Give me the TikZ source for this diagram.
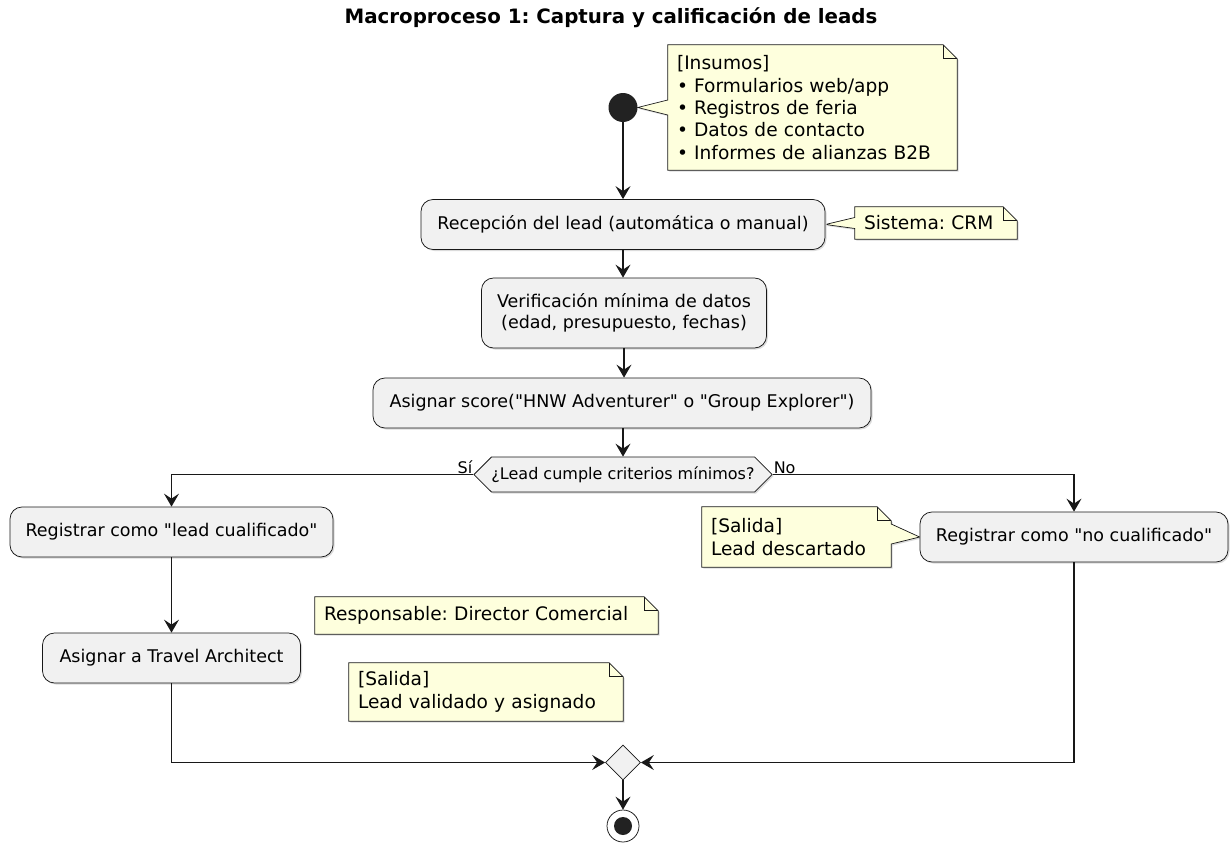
\documentclass[tikz,border=0pt]{standalone}
\usepackage{fontspec}
\setmainfont{DejaVu Sans}[Ligatures=TeXOff]
\usetikzlibrary{arrows.meta,shapes.geometric,shapes.symbols}
\frenchspacing

\definecolor{linec}{HTML}{181818}
\definecolor{actfill}{HTML}{F1F1F1}
\definecolor{notefill}{HTML}{FEFFDD}
\definecolor{dotfill}{HTML}{222222}

\pgfdeclarelayer{background}
\pgfsetlayers{background,main}

\newcommand\actfont{\fontsize{17.5}{21.5}\selectfont}
\newcommand\notefont{\fontsize{18.6}{22.4}\selectfont}
\newcommand\decfont{\fontsize{16}{19}\selectfont}

% outline of a note with a folded top-right corner
\newcommand\notebody[1]{(#1.south west) -- (#1.north west) -- ([xshift=-14pt]#1.north east) -- ([yshift=-14pt]#1.north east) -- (#1.south east) -- cycle}
% note whose left side points at a target
\newcommand\notebodyleft[4]{(#1.south west) -- ([yshift=#3]#1.west) -- (#2) -- ([yshift=#4]#1.west) -- (#1.north west) -- ([xshift=-14pt]#1.north east) -- ([yshift=-14pt]#1.north east) -- (#1.south east) -- cycle}
% note whose right side points at a target
\newcommand\notebodyright[4]{(#1.south west) -- (#1.north west) -- ([xshift=-14pt]#1.north east) -- ([yshift=-14pt]#1.north east) -- ([yshift=#4]#1.east) -- (#2) -- ([yshift=#3]#1.east) -- (#1.south east) -- cycle}
\newcommand\notefold[1]{\draw[notefoldline] ([xshift=-14pt]#1.north east) |- ([yshift=-14pt]#1.north east);}

\tikzset{
  act/.style={draw=linec, fill=actfill, line width=0.75pt, rounded corners=12pt,
    font=\actfont, align=center, inner sep=0pt, minimum height=50pt,
    preaction={fill=black!14, transform canvas={xshift=1.5pt,yshift=-1.5pt}}},
  notetext/.style={font=\notefont, align=left, inner xsep=9pt, inner ysep=0pt, anchor=center},
  noteshape/.style={draw=linec, fill=notefill, line width=0.7pt, line join=miter},
  noteshadow/.style={fill=black!14, transform canvas={xshift=1.5pt,yshift=-1.5pt}},
  notefoldline/.style={draw=linec, line width=0.7pt},
  flow/.style={draw=linec, line width=1.2pt, -{Stealth[length=13pt,width=15pt,inset=5pt]}},
  lbl/.style={font=\decfont, inner sep=1pt}
}

\begin{document}
\begin{tikzpicture}[x=1pt,y=-1pt]
\useasboundingbox (0,0) rectangle (1231,843);

% title
\node[font=\bfseries\fontsize{19.8}{24}\selectfont] (title) at (611,18) {Macroproceso 1: Captura y calificación de leads};

% main flow
\node[circle, fill=dotfill, minimum size=29pt, inner sep=0pt] (start) at (623,107.5) {};
\node[act, minimum width=404pt] (recep) at (623,224.5) {Recepción del lead (automática o manual)};
\node[act, minimum width=285pt, minimum height=70pt] (verif) at (624,313) {Verificación mínima de datos\\(edad, presupuesto, fechas)};
\node[act, minimum width=498pt] (score) at (622,403) {Asignar score("HNW Adventurer" o "Group Explorer")};
\node[signal, signal to=west and east, signal pointer angle=90, draw=linec, fill=actfill,
  line width=0.75pt, minimum width=296pt, minimum height=35pt, inner sep=0pt, font=\decfont,
  preaction={fill=black!14, transform canvas={xshift=1.5pt,yshift=-1.5pt}}] (dec) at (623,474.5) {¿Lead cumple criterios mínimos?};
\node[act, minimum width=323pt] (regL) at (171.5,532) {Registrar como "lead cualificado"};
\node[act, minimum width=258pt] (ta) at (171.5,658) {Asignar a Travel Architect};
\node[act, minimum width=308pt] (regR) at (1074,537) {Registrar como "no cualificado"};
\node[diamond, aspect=1, draw=linec, fill=actfill, line width=0.75pt, minimum width=35pt, minimum height=35pt, inner sep=0pt] (merge) at (623,762.5) {};
\node[circle, draw=linec, fill=white, line width=0.75pt, minimum size=32pt, inner sep=0pt] (stop) at (623,826) {};
\fill[dotfill] (stop.center) circle (9pt);

% notes: text here, outlines on the background layer
\node[notetext, minimum width=289pt, minimum height=125pt, text width=271pt] (nIns) at (812.5,107.5)
  {[Insumos]\\• Formularios web/app\\• Registros de feria\\• Datos de contacto\\• Informes de alianzas B2B};
\node[notetext, minimum width=162pt, minimum height=32pt, text width=144pt] (nCRM) at (936,223) {Sistema: CRM};
\node[notetext, minimum width=189pt, minimum height=60pt, text width=171pt] (nDesc) at (796.5,537) {[Salida]\\Lead descartado};
\node[notetext, minimum width=343pt, minimum height=37pt, text width=325pt] (nResp) at (486.5,615.5) {Responsable: Director Comercial};
\node[notetext, minimum width=274pt, minimum height=58pt, text width=256pt] (nSal) at (486,692) {[Salida]\\Lead validado y asignado};

\begin{pgfonlayer}{background}
\fill[white] (0,0) rectangle (1231,843);
\fill[noteshadow] \notebodyleft{nIns}{start.east}{-7.5pt}{7.5pt};
\path[noteshape] \notebodyleft{nIns}{start.east}{-7.5pt}{7.5pt};
\notefold{nIns}
\fill[noteshadow] \notebodyleft{nCRM}{recep.east}{-5.5pt}{5.5pt};
\path[noteshape] \notebodyleft{nCRM}{recep.east}{-5.5pt}{5.5pt};
\notefold{nCRM}
\fill[noteshadow] \notebodyright{nDesc}{regR.west}{-7pt}{13pt};
\path[noteshape] \notebodyright{nDesc}{regR.west}{-7pt}{13pt};
\notefold{nDesc}
\fill[noteshadow] \notebody{nResp};
\path[noteshape] \notebody{nResp};
\notefold{nResp}
\fill[noteshadow] \notebody{nSal};
\path[noteshape] \notebody{nSal};
\notefold{nSal}
\end{pgfonlayer}

% connectors
\draw[flow] (start.south) -- (start.south |- recep.north);
\draw[flow] (recep.south) -- (recep.south |- verif.north);
\draw[flow] (verif.south) -- (verif.south |- score.north);
\draw[flow] (score.south -| dec.north) -- (dec.north);
\draw[flow] (dec.west) -| (regL.north);
\draw[flow] (dec.east) -| (regR.north);
\node[lbl, anchor=south east] (lsi) at (dec.west) {Sí};
\node[lbl, anchor=south west] (lno) at (dec.east) {No};
\draw[flow] (regL.south) -- (ta.north);
\draw[flow] (ta.south) |- (merge.west);
\draw[flow] (regR.south) |- (merge.east);
\draw[flow] (merge.south) -- (stop.north);
\end{tikzpicture}
\end{document}
